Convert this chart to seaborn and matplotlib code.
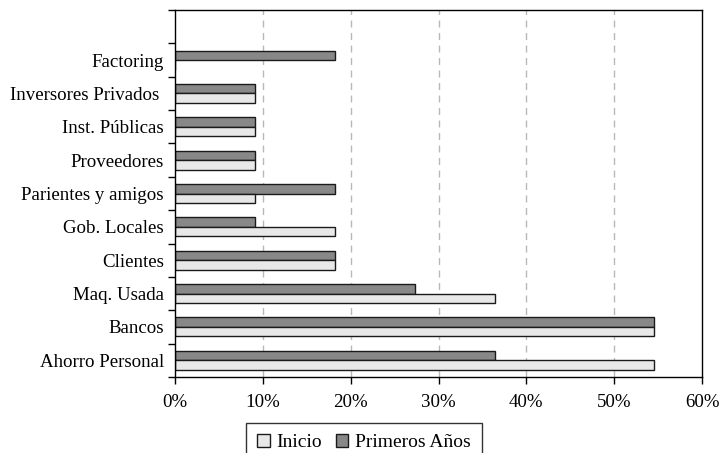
import matplotlib
matplotlib.use("Agg")
import matplotlib.pyplot as plt
import matplotlib.patches as mpatches
import seaborn as sns
import pandas as pd

# Funding sources, listed top to bottom ("" keeps an empty row at the top)
categories = ["", "Factoring", "Inversores Privados ", "Inst. Públicas", "Proveedores",
              "Parientes y amigos", "Gob. Locales", "Clientes", "Maq. Usada",
              "Bancos", "Ahorro Personal"]
series_names = ["Inicio", "Primeros Años"]
inicio = [0.0, 0.0, 9.1, 9.1, 9.1, 9.1, 18.2, 18.2, 36.4, 54.5, 54.5]
primeros = [0.0, 18.2, 9.1, 9.1, 9.1, 18.2, 9.1, 18.2, 27.3, 54.5, 36.4]
x_ticks = [0, 10, 20, 30, 40, 50, 60]
x_tick_labels = ["0%", "10%", "20%", "30%", "40%", "50%", "60%"]

colors = {"Inicio": "#e8e8e8", "Primeros Años": "#888888"}

rows = []
for cat, a, b in zip(categories, inicio, primeros):
    if cat == "":
        continue
    rows.append({"Fuente": cat, "Serie": "Inicio", "Valor": a})
    rows.append({"Fuente": cat, "Serie": "Primeros Años", "Valor": b})
df = pd.DataFrame(rows)

sns.set_style("white")
plt.rcParams["font.family"] = ["Liberation Serif", "DejaVu Serif"]
plt.rcParams["text.color"] = "black"

FS = 13.6

fig = plt.figure(figsize=(7.21, 4.53), dpi=100)
ax = fig.add_axes([175 / 721, 1 - 377 / 453, (702 - 175) / 721, (377 - 10) / 453])

sns.barplot(data=df, y="Fuente", x="Valor", hue="Serie", order=categories,
            hue_order=["Primeros Años", "Inicio"], palette=colors,
            orient="h", width=0.57, edgecolor="#1a1a1a", linewidth=1.0,
            errorbar=None, ax=ax, legend=False)

ax.set_xlim(0, 60)
ax.set_ylim(len(categories) - 0.5, -0.5)
ax.set_xlabel("")
ax.set_ylabel("")

ax.set_xticks(x_ticks)
ax.set_xticklabels(x_tick_labels, fontsize=FS)

# category boundaries carry the tick marks; names sit centred in each row
ax.set_yticks([i + 0.5 for i in range(len(categories) - 1)] + [-0.5, len(categories) - 0.5])
ax.set_yticklabels([])
ax.set_yticks(range(len(categories)), minor=True)
ax.set_yticklabels(categories, minor=True, fontsize=FS)
ax.tick_params(axis="y", which="minor", length=0, pad=8, labelcolor="black")
ax.tick_params(axis="y", which="major", length=5, width=1, direction="out", left=True, color="black")
ax.tick_params(axis="x", length=5, width=1, direction="out", bottom=True, color="black",
               pad=7, labelcolor="black")

for x in x_ticks[1:-1]:
    ax.axvline(x, color="#b8b8b8", linestyle=(0, (5, 4)), linewidth=1.0, zorder=0)

for side in ["left", "right", "top", "bottom"]:
    ax.spines[side].set_visible(True)
    ax.spines[side].set_color("black")
    ax.spines[side].set_linewidth(1.0)

handles = [mpatches.Patch(facecolor=colors[s], edgecolor="#1a1a1a", linewidth=1.0, label=s)
           for s in series_names]
leg = fig.legend(handles=handles, loc="upper center", bbox_to_anchor=(364 / 721, 1 - 423 / 453),
                 ncol=2, fontsize=14, frameon=True, fancybox=False, edgecolor="black",
                 handlelength=0.65, handleheight=0.65, handletextpad=0.35, columnspacing=0.7,
                 borderpad=0.55, borderaxespad=0)
leg.get_frame().set_linewidth(1.0)

fig.savefig("out.png", dpi=100)
